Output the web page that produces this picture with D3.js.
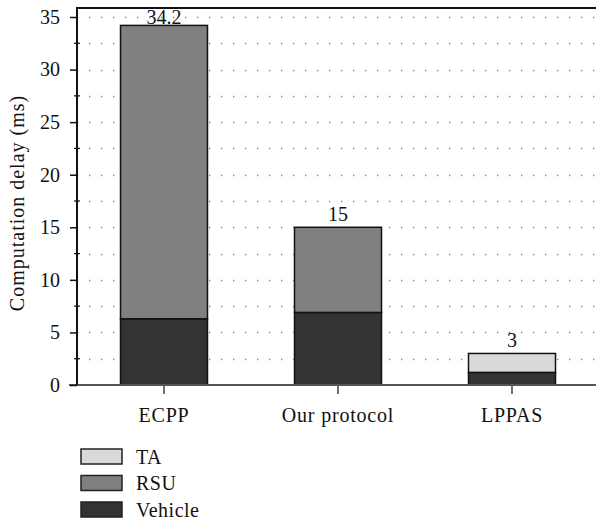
<!DOCTYPE html>
<html>
<head>
<meta charset="utf-8">
<script src="https://cdn.jsdelivr.net/npm/d3@7"></script>
<style>
  html, body { margin: 0; padding: 0; background: #fff; }
  svg { display: block; }
</style>
</head>
<body>
<svg id="chart" width="596" height="525" font-family="'Liberation Serif', 'Times New Roman', 'DejaVu Serif', serif"></svg>
<script>
// ---- data ----
const categories = ["ECPP", "Our protocol", "LPPAS"];
const vehicle = [6.3, 6.9, 1.2];
const rsu = [27.9, 8.1, 0];
const ta = [0, 0, 1.8];
const totals = [34.2, 15, 3];
const totalLabels = ["34.2", "15", "3"];
const yTicks = [0, 5, 10, 15, 20, 25, 30, 35];
const yMinorTicks = [2.5, 7.5, 12.5, 17.5, 22.5, 27.5, 32.5];
const seriesNames = ["Vehicle", "RSU", "TA"];
const legendOrder = ["TA", "RSU", "Vehicle"];
const colors = { Vehicle: "#333333", RSU: "#808080", TA: "#d9d9d9" };

const FONT = "'Liberation Serif', 'Times New Roman', 'DejaVu Serif', serif";

// ---- layout ----
const svg = d3.select("#chart");
const x = d3.scaleBand().domain(categories).range([77, 599]).paddingInner(0.5).paddingOuter(0.25);
const y = d3.scaleLinear().domain([0, 35]).range([385, 17]);
const frameTop = y(35.85);

const rows = categories.map((c, i) => ({ cat: c, Vehicle: vehicle[i], RSU: rsu[i], TA: ta[i] }));
const stack = d3.stack().keys(seriesNames)(rows);

// gridlines (dotted) at every 2.5
const gridVals = yMinorTicks.concat(yTicks.filter(v => v > 0)).sort((a, b) => a - b);
svg.append("g").selectAll("line").data(gridVals).join("line")
  .attr("x1", 77).attr("x2", 596)
  .attr("y1", d => Math.round(y(d)) + 0.5).attr("y2", d => Math.round(y(d)) + 0.5)
  .attr("stroke", "#888").attr("stroke-width", 1.3)
  .attr("stroke-dasharray", "1.3 10.7");

// bars
svg.append("g").selectAll("g").data(stack).join("g")
  .attr("fill", d => colors[d.key])
  .selectAll("rect").data(d => d.filter(p => p[1] - p[0] > 0)).join("rect")
  .attr("x", d => x(d.data.cat))
  .attr("width", x.bandwidth())
  .attr("y", d => y(d[1]))
  .attr("height", d => y(d[0]) - y(d[1]))
  .attr("stroke", "#111").attr("stroke-width", 1.5);

// total labels
svg.append("g").selectAll("text").data(categories).join("text")
  .attr("x", d => x(d) + x.bandwidth() / 2)
  .attr("y", (d, i) => Math.max(y(totals[i]) - 6, frameTop + 16))
  .attr("text-anchor", "middle")
  .attr("font-family", FONT)
  .attr("font-size", 20)
  .attr("fill", "#111")
  .text((d, i) => totalLabels[i]);

// top frame line
svg.append("line").attr("x1", 77).attr("x2", 596)
  .attr("y1", frameTop).attr("y2", frameTop)
  .attr("stroke", "#111").attr("stroke-width", 2);

// baseline
svg.append("line").attr("x1", 69).attr("x2", 596)
  .attr("y1", y(0)).attr("y2", y(0))
  .attr("stroke", "#555").attr("stroke-width", 2);

// y axis
const yAxis = d3.axisLeft(y).tickValues(yTicks).tickSize(7).tickPadding(10).tickFormat(d3.format("d"));
const gy = svg.append("g").attr("transform", "translate(77,0)").call(yAxis)
  .attr("font-family", FONT).attr("font-size", 20);
gy.select(".domain").remove();
gy.selectAll(".tick line").attr("stroke", "#111").attr("stroke-width", 1.5);
gy.selectAll(".tick text").attr("fill", "#111");
svg.append("line").attr("x1", 77).attr("x2", 77)
  .attr("y1", frameTop - 1).attr("y2", y(0))
  .attr("stroke", "#111").attr("stroke-width", 2);
// minor ticks
svg.append("g").selectAll("line").data(yMinorTicks).join("line")
  .attr("x1", 74).attr("x2", 80)
  .attr("y1", d => y(d)).attr("y2", d => y(d))
  .attr("stroke", "#111").attr("stroke-width", 1.2);

// x axis ticks and labels
const xAxis = d3.axisBottom(x).tickSize(8).tickPadding(14);
const gx = svg.append("g").attr("transform", `translate(0,${y(0) + 1})`).call(xAxis)
  .attr("font-family", FONT).attr("font-size", 20);
gx.select(".domain").remove();
gx.selectAll(".tick line").attr("stroke", "#111").attr("stroke-width", 1.2);
gx.selectAll(".tick text").attr("fill", "#111").style("letter-spacing", "0.8px");

// y title
svg.append("text")
  .attr("transform", "translate(24,203) rotate(-90)")
  .attr("text-anchor", "middle")
  .attr("font-family", FONT)
  .attr("font-size", 20)
  .attr("fill", "#111")
  .style("letter-spacing", "1px")
  .text("Computation delay (ms)");

// legend
const lg = svg.append("g").selectAll("g").data(legendOrder).join("g")
  .attr("transform", (d, i) => `translate(81,${449 + i * 26.5})`);
lg.append("rect").attr("width", 41).attr("height", 15)
  .attr("fill", d => colors[d]).attr("stroke", "#222").attr("stroke-width", 1.5);
lg.append("text").attr("x", 55).attr("y", 14.5)
  .attr("font-family", FONT).attr("font-size", 20).attr("fill", "#111")
  .style("letter-spacing", "0.5px")
  .text(d => d);
</script>
</body>
</html>
